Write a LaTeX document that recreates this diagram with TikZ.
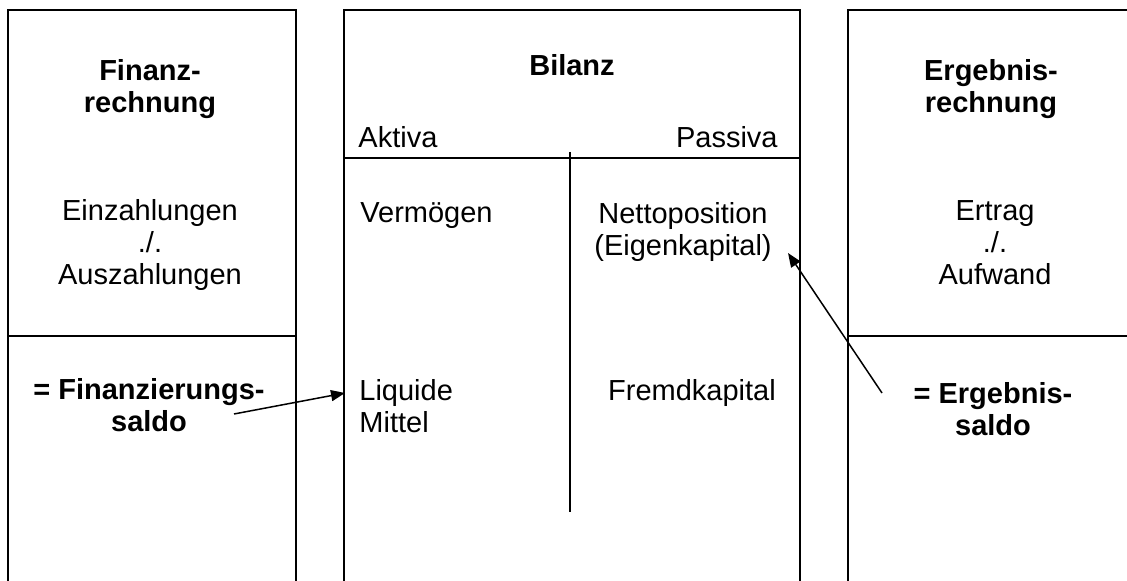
\documentclass[tikz,border=0pt]{standalone}
\usepackage{fontspec}
\setmainfont{Liberation Sans}
\usetikzlibrary{arrows.meta}

\begin{document}
\begin{tikzpicture}[x=0.5pt,y=-0.5pt,>={Triangle[length=7pt,width=5.5pt]},
    box line/.style={line width=1pt},
    txt/.style={inner sep=0pt,anchor=base,align=center,font=\fontsize{14.5}{16}\selectfont},
    bold txt/.style={txt,font=\fontsize{14.5}{16}\selectfont\bfseries},
    pointer/.style={->,line width=0.75pt,shorten >=0pt}]

    \useasboundingbox (0,0) rectangle (1127,581);

    % the three accounts, open at the bottom
    \draw[box line] (8,581) -- (8,10) -- (296,10) -- (296,581);
    \draw[box line] (344,581) -- (344,10) -- (800,10) -- (800,581);
    \draw[box line] (848,581) -- (848,10) -- (1127,10);
    \draw[box line] (8,336) -- (296,336);
    \draw[box line] (344,158) -- (800,158);
    \draw[box line] (848,336) -- (1127,336);
    \draw[line width=0.8pt] (570,152) -- (570,512);

    % base anchor = last line
    \node (1) [bold txt] at (150,113) {Finanz-\\rechnung};
    \node (2) [bold txt] at (572,76) {Bilanz};
    \node (3) [bold txt] at (991,113) {Ergebnis-\\rechnung};

    \node (4) [txt,anchor=base west] at (358,148) {Aktiva};
    \node (5) [txt,anchor=base east] at (778,148) {Passiva};

    \node (6) [txt] at (150,285) {Einzahlungen\\./.\\Auszahlungen};
    \node (7) [txt,anchor=base west] at (360,223) {Vermögen};
    \node (8) [txt] at (683,256) {Nettoposition\\(Eigenkapital)};
    \node (9) [txt] at (995,285) {Ertrag\\./.\\Aufwand};

    \node (10) [bold txt] at (149,432) {= Finanzierungs-\\saldo};
    \node (11) [txt,anchor=base west,align=left] at (359,433) {Liquide\\Mittel};
    \node (12) [txt] at (692,401) {Fremdkapital};
    \node (13) [bold txt] at (993,436) {= Ergebnis-\\saldo};

    \coordinate (14) at (234,414);
    \coordinate (15) at (345,393);
    \coordinate (16) at (882,393);
    \coordinate (17) at (788,253);

    \draw[pointer] (14) -- (15);
    \draw[pointer] (16) -- (17);
\end{tikzpicture}
\end{document}
